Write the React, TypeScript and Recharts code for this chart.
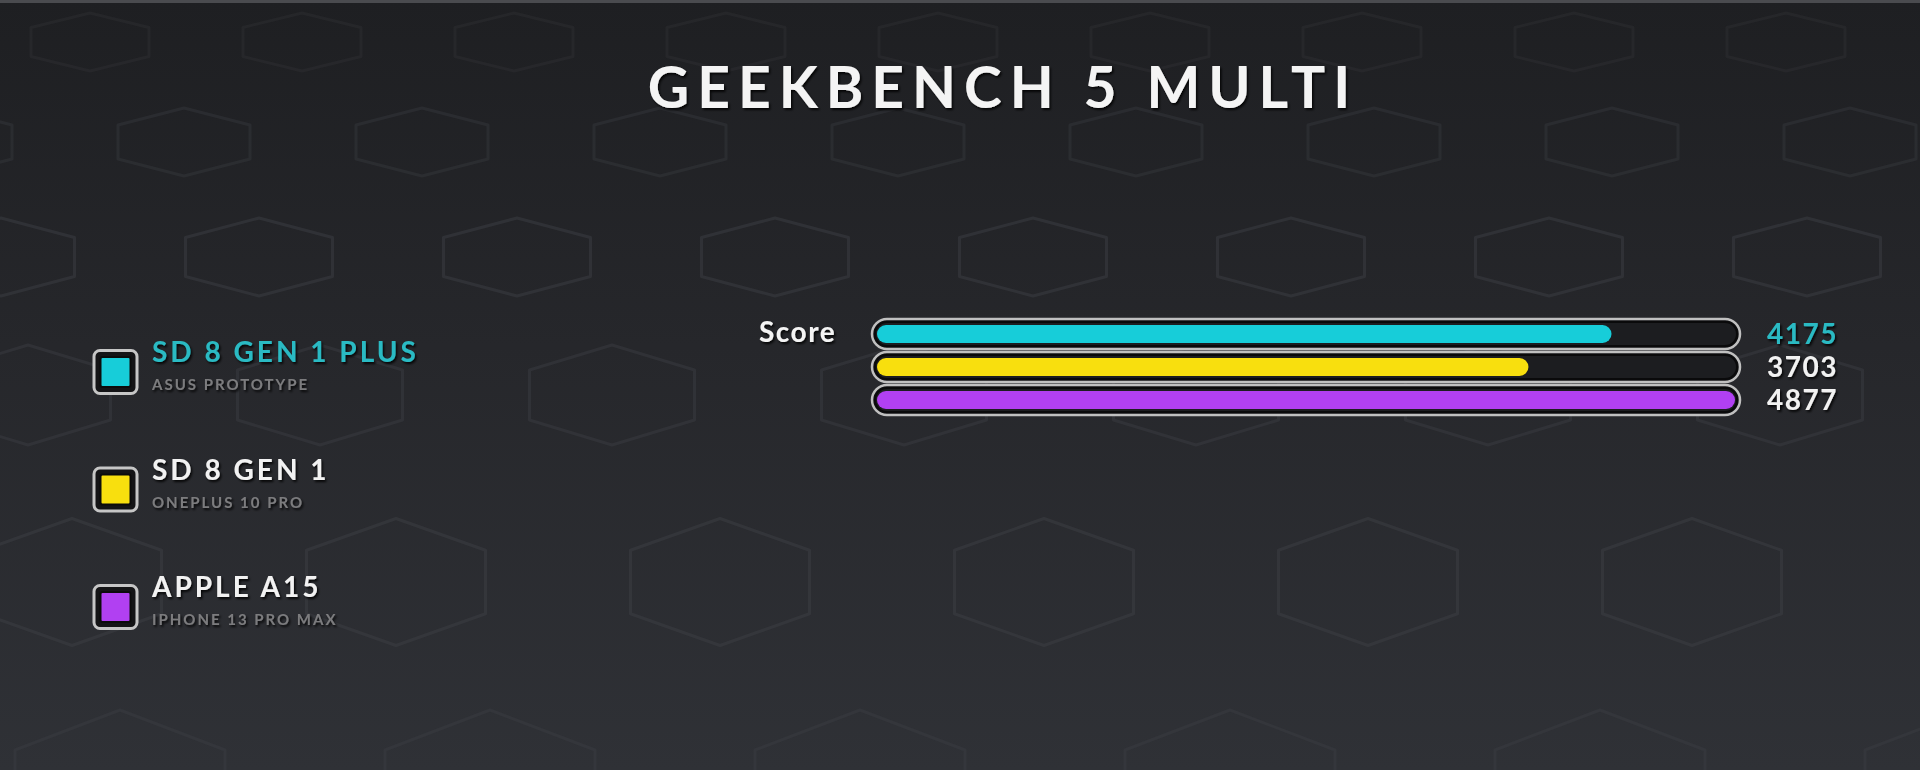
import React from "react";
import { BarChart, Bar, XAxis, YAxis, Legend, Cell } from "recharts";

const chips = ["SD 8 GEN 1 PLUS", "SD 8 GEN 1", "APPLE A15"];
const devices = ["ASUS PROTOTYPE", "ONEPLUS 10 PRO", "IPHONE 13 PRO MAX"];
const scores = [4175, 3703, 4877];
const chipColors = ["#17cdd9", "#f8df0e", "#b140f2"];
const title = "GEEKBENCH 5 MULTI";
const groupLabel = "Score";

const data = chips.map((chip, i) => ({ chip, device: devices[i], score: scores[i] }));

const W = 1920;
const H = 770;
const FONT = "Lato, 'Open Sans', sans-serif";
const CYAN_TEXT = "#2bbac3";

// decorative hexagon rows (background only)
const hexRows = [
  { cy: 42, w: 118, h: 58, step: 212, start: 90, op: 0.25 },
  { cy: 142, w: 132, h: 68, step: 238, start: -54, op: 0.4 },
  { cy: 257, w: 147, h: 78, step: 258, start: 1, op: 0.55 },
  { cy: 395, w: 165, h: 100, step: 292, start: 28, op: 0.5 },
  { cy: 582, w: 179, h: 127, step: 324, start: 72, op: 0.6 },
  { cy: 790, w: 210, h: 160, step: 370, start: 120, op: 0.5 },
];

function hexPoints(cx: number, cy: number, w: number, h: number) {
  return [
    [cx, cy - h / 2],
    [cx + w / 2, cy - h / 4],
    [cx + w / 2, cy + h / 4],
    [cx, cy + h / 2],
    [cx - w / 2, cy + h / 4],
    [cx - w / 2, cy - h / 4],
  ]
    .map((p) => p.join(","))
    .join(" ");
}

const Backdrop = () => (
  <svg width={W} height={H} style={{ position: "absolute", left: 0, top: 0 }}>
    <defs>
      <linearGradient id="bg" x1="0" y1="0" x2="0" y2="1">
        <stop offset="0%" stopColor="#1e1f22" />
        <stop offset="45%" stopColor="#26272b" />
        <stop offset="100%" stopColor="#2f3136" />
      </linearGradient>
      <filter id="txtShadow" x="-10%" y="-30%" width="120%" height="160%">
        <feDropShadow dx="1.5" dy="2" stdDeviation="1.2" floodColor="#000" floodOpacity="0.85" />
      </filter>
    </defs>
    <rect x={0} y={0} width={W} height={H} fill="url(#bg)" />
    <rect x={0} y={0} width={W} height={3} fill="#4a4b4f" />
    {hexRows.map((r, ri) => {
      const out = [];
      for (let cx = r.start; cx < W + r.w; cx += r.step) {
        out.push(
          <polygon
            key={`${ri}-${cx}`}
            points={hexPoints(cx, r.cy, r.w, r.h)}
            fill="none"
            stroke="#3a3c41"
            strokeWidth={3}
            strokeLinejoin="round"
            opacity={r.op}
          />
        );
      }
      return out;
    })}
    <text
      x={1003}
      y={108}
      textAnchor="middle"
      fill="#f4f4f4"
      fontFamily={FONT}
      fontWeight={700}
      fontSize={57}
      letterSpacing={8}
      filter="url(#txtShadow)"
    >
      {title}
    </text>
    <text
      x={759}
      y={342}
      fill="#f4f4f4"
      fontFamily={FONT}
      fontWeight={700}
      fontSize={28}
      letterSpacing={1.5}
      filter="url(#txtShadow)"
    >
      {groupLabel}
    </text>
  </svg>
);

const Track = (props: any) => {
  const { x, y, width, height } = props;
  return (
    <g>
      <rect
        x={x - 5}
        y={y - 6}
        width={width + 10}
        height={height + 12}
        rx={(height + 12) / 2}
        fill="#141517"
        stroke="#c0c0c0"
        strokeWidth={2.5}
      />
      <rect
        x={x - 2}
        y={y - 3}
        width={width + 4}
        height={height + 6}
        rx={(height + 6) / 2}
        fill="#1c1d20"
        stroke="#0a0a0b"
        strokeWidth={2}
      />
    </g>
  );
};

const PillBar = (props: any) => {
  const { x, y, width, height, fill } = props;
  if (!width || width <= 0) return null;
  return <rect x={x} y={y} width={width} height={height} rx={height / 2} fill={fill} />;
};

const ValueTick = (props: any) => {
  const { x, y, payload } = props;
  const i = payload.index ?? props.index ?? 0;
  return (
    <text
      x={x}
      y={y}
      dy={10}
      textAnchor="start"
      fill={i === 0 ? CYAN_TEXT : "#f2f2f2"}
      fontFamily={FONT}
      fontWeight={700}
      fontSize={28}
      letterSpacing={1.5}
      filter="url(#txtShadow)"
    >
      {payload.value}
    </text>
  );
};

const LegendBlock = () => (
  <svg width={460} height={330} style={{ overflow: "visible" }}>
    {chips.map((chip, i) => {
      const cy = 42 + i * 117.5;
      return (
        <g key={chip}>
          <rect x={14} y={cy - 21.5} width={43} height={43} rx={6} fill="#141416" stroke="#c6c6c6" strokeWidth={3} />
          <rect x={20.5} y={cy - 15} width={30} height={30} rx={2} fill={chipColors[i]} stroke="#0c0c0c" strokeWidth={2} />
          <text
            x={72}
            y={cy - 10}
            fill={i === 0 ? CYAN_TEXT : "#f2f2f2"}
            fontFamily={FONT}
            fontWeight={700}
            fontSize={28}
            letterSpacing={3}
            filter="url(#txtShadow)"
          >
            {chip}
          </text>
          <text
            x={72}
            y={cy + 18}
            fill="#7c7c7e"
            fontFamily={FONT}
            fontWeight={700}
            fontSize={15}
            letterSpacing={2}
            filter="url(#txtShadow)"
          >
            {devices[i]}
          </text>
        </g>
      );
    })}
  </svg>
);

export default function App() {
  return (
    <div style={{ position: "fixed", left: 0, top: 0, width: W, height: H, overflow: "hidden" }}>
      <Backdrop />
      <div style={{ position: "absolute", left: 0, top: 0 }}>
        <BarChart
          width={W}
          height={H}
          data={data}
          layout="vertical"
          margin={{ top: 317, bottom: H - 416, left: 877, right: 65 }}
          barCategoryGap={0}
        >
          <XAxis type="number" dataKey="score" domain={[0, "dataMax"]} hide />
          <YAxis yAxisId="chips" type="category" dataKey="chip" hide />
          <YAxis
            yAxisId="values"
            orientation="right"
            type="category"
            dataKey="score"
            width={120}
            axisLine={false}
            tickLine={false}
            tickSize={0}
            tickMargin={32}
            tick={ValueTick}
          />
          <Legend
            layout="vertical"
            align="center"
            verticalAlign="middle"
            content={LegendBlock}
            wrapperStyle={{ position: "absolute", left: 80, top: 330, width: 460 }}
          />
          <Bar
            yAxisId="chips"
            dataKey="score"
            barSize={18}
            background={Track}
            shape={PillBar}
            isAnimationActive={false}
          >
            {data.map((d, i) => (
              <Cell key={d.chip} fill={chipColors[i]} />
            ))}
          </Bar>
        </BarChart>
      </div>
    </div>
  );
}
